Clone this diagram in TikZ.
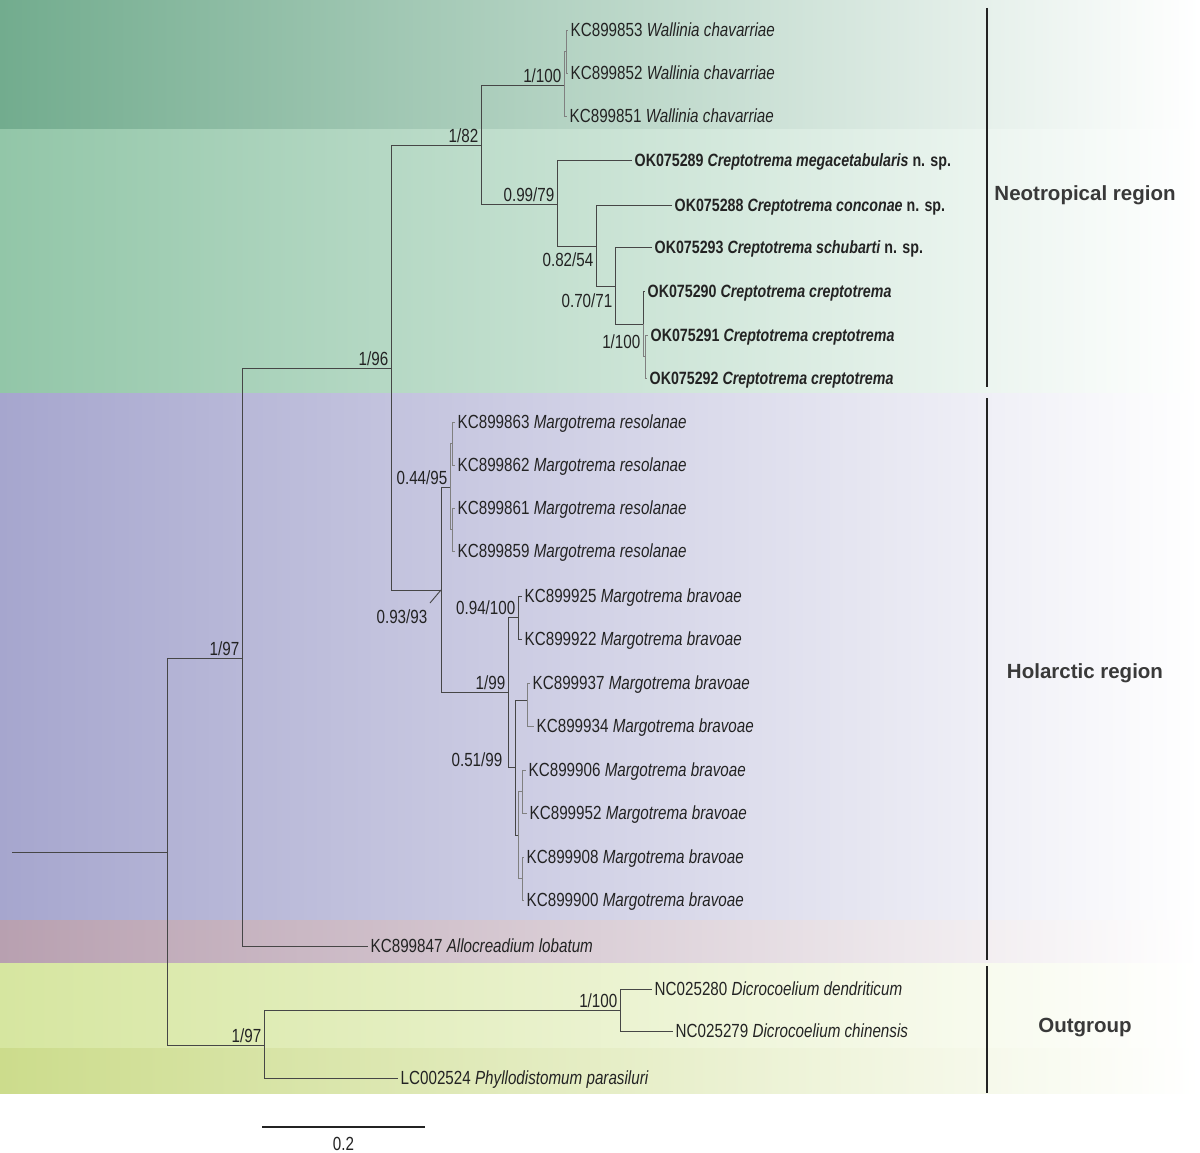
\documentclass[tikz,border=0pt]{standalone}
\usepackage{fontspec}
\setmainfont{Liberation Sans}
\newfontfamily\narrowsans[FakeStretch=0.8]{Liberation Sans}
\definecolor{neodark}{RGB}{114,172,142}
\definecolor{neolight}{RGB}{146,198,168}
\definecolor{holarc}{RGB}{166,166,206}
\definecolor{allocr}{RGB}{184,160,176}
\definecolor{outlight}{RGB}{214,230,160}
\definecolor{outdark}{RGB}{204,220,140}
\definecolor{branchc}{RGB}{70,70,70}
\definecolor{labelc}{RGB}{35,35,35}
\begin{document}
\begin{tikzpicture}[x=1pt,y=-1pt,
  branch/.style={draw=branchc, line width=0.9pt},
  twig/.style={draw=gray, line width=0.8pt},
  tip/.style={anchor=west, inner sep=2.5pt, font=\narrowsans\fontsize{19}{21}\selectfont, text=labelc, text height=13.5pt, text depth=0pt},
  boldtip/.style={tip, font=\narrowsans\bfseries\fontsize{17.8}{21}\selectfont},
  support/.style={anchor=south east, inner sep=2.5pt, font=\narrowsans\fontsize{19}{21}\selectfont, text=labelc, text height=13.5pt, text depth=0pt},
  region/.style={font=\bfseries\fontsize{20.5}{24}\selectfont, text=labelc!90!white},
  bracket/.style={draw=labelc, line width=2pt}]
\useasboundingbox (0,0) rectangle (1200,1153);
\shade[left color=neodark, right color=white] (0,0) rectangle (1200,130);
\shade[left color=neolight, right color=white] (0,130) rectangle (1200,393);
\shade[left color=holarc, right color=white] (0,393) rectangle (1200,920);
\shade[left color=allocr, right color=white] (0,920) rectangle (1200,963);
\shade[left color=outlight, right color=white] (0,963) rectangle (1200,1048);
\shade[left color=outdark, right color=white] (0,1048) rectangle (1200,1093);

\coordinate (root) at (12,852);
\coordinate (A) at (167,852);
\coordinate (B) at (242,658);
\coordinate (C) at (391,368);
\coordinate (D) at (481,145);
\coordinate (W) at (564,85);
\coordinate (W2) at (566,51);
\coordinate (E) at (557,204);
\coordinate (F) at (596,246);
\coordinate (G) at (615,286);
\coordinate (H) at (643,324);
\coordinate (H2) at (645,356);
\coordinate (I) at (441,590);
\coordinate (I93) at (430,603);
\coordinate (R) at (450,487);
\coordinate (R1) at (452,443);
\coordinate (R2) at (452,529);
\coordinate (J) at (508,692);
\coordinate (K) at (518,617);
\coordinate (L) at (515,767);
\coordinate (N) at (527,700);
\coordinate (M) at (518,835);
\coordinate (M1) at (522,791);
\coordinate (M2) at (522,878);
\coordinate (O) at (264,1045);
\coordinate (P) at (620,1010);

\node[tip] (w853) at (568,30) {KC899853 \textit{Wallinia chavarriae}};
\node[tip] (w852) at (568,73) {KC899852 \textit{Wallinia chavarriae}};
\node[tip] (w851) at (567,116) {KC899851 \textit{Wallinia chavarriae}};
\node[boldtip] (c289) at (632,160) {OK075289 \textit{Creptotrema megacetabularis} n. sp.};
\node[boldtip] (c288) at (672,205) {OK075288 \textit{Creptotrema conconae} n. sp.};
\node[boldtip] (c293) at (652,247) {OK075293 \textit{Creptotrema schubarti} n. sp.};
\node[boldtip] (c290) at (645,291) {OK075290 \textit{Creptotrema creptotrema}};
\node[boldtip] (c291) at (648,335) {OK075291 \textit{Creptotrema creptotrema}};
\node[boldtip] (c292) at (647,378) {OK075292 \textit{Creptotrema creptotrema}};
\node[tip] (r863) at (455,422) {KC899863 \textit{Margotrema resolanae}};
\node[tip] (r862) at (455,465) {KC899862 \textit{Margotrema resolanae}};
\node[tip] (r861) at (455,508) {KC899861 \textit{Margotrema resolanae}};
\node[tip] (r859) at (455,551) {KC899859 \textit{Margotrema resolanae}};
\node[tip] (b925) at (522,596) {KC899925 \textit{Margotrema bravoae}};
\node[tip] (b922) at (522,639) {KC899922 \textit{Margotrema bravoae}};
\node[tip] (b937) at (530,683) {KC899937 \textit{Margotrema bravoae}};
\node[tip] (b934) at (534,726) {KC899934 \textit{Margotrema bravoae}};
\node[tip] (b906) at (526,770) {KC899906 \textit{Margotrema bravoae}};
\node[tip] (b952) at (527,813) {KC899952 \textit{Margotrema bravoae}};
\node[tip] (b908) at (524,857) {KC899908 \textit{Margotrema bravoae}};
\node[tip] (b900) at (524,900) {KC899900 \textit{Margotrema bravoae}};
\node[tip] (allo) at (368,946) {KC899847 \textit{Allocreadium lobatum}};
\node[tip] (dend) at (652,989) {NC025280 \textit{Dicrocoelium dendriticum}};
\node[tip] (chin) at (673,1031) {NC025279 \textit{Dicrocoelium chinensis}};
\node[tip] (phyl) at (398,1078) {LC002524 \textit{Phyllodistomum parasiluri}};

\draw[branch] (root) -- (A);
\foreach \p/\c in {A/B, A/O, B/C, C/D, C/I, D/W, D/E, E/F, F/G, G/H, I/R, I/J, J/K, J/L, L/N, L/M, O/P}
  \draw[branch] (\p) |- (\c);
\foreach \p/\c in {E/c289, F/c288, G/c293, H/c290, B/allo, P/dend, P/chin, O/phyl, K/b925, K/b922}
  \draw[branch] (\p) |- (\c.west);
\foreach \p/\c in {W/W2, H/H2, R/R1, R/R2, M/M1, M/M2}
  \draw[twig] (\p) |- (\c);
\foreach \p/\c in {W2/w853, W2/w852, W/w851, H2/c291, H2/c292, R1/r863, R1/r862, R2/r861, R2/r859, N/b937, N/b934, M1/b906, M1/b952, M2/b908, M2/b900}
  \draw[twig] (\p) |- (\c.west);
\draw[branch] (I) -- (I93);

\node[support] (sB) at (B) {1/97};
\node[support] (sC) at (C) {1/96};
\node[support] (sD) at (D) {1/82};
\node[support] (sW) at (W) {1/100};
\node[support] (sE) at (E) {0.99/79};
\node[support, anchor=north east] (sF) at ([yshift=-4pt]F) {0.82/54};
\node[support, anchor=north east] (sG) at ([yshift=-5pt]G) {0.70/71};
\node[support, anchor=north east] (sH) at ([yshift=-8pt]H) {1/100};
\node[support] (sR) at (R) {0.44/95};
\node[support, anchor=north east] (sI) at ([yshift=-4pt]I93) {0.93/93};
\node[support] (sK) at (K) {0.94/100};
\node[support] (sJ) at (J) {1/99};
\node[support] (sL) at ([xshift=-10pt,yshift=-2pt]L) {0.51/99};
\node[support] (sP) at (P) {1/100};
\node[support] (sO) at (O) {1/97};

\coordinate (sb1) at (262,1127);
\coordinate (sb2) at (425,1127);
\draw[draw=labelc, line width=1.6pt] (sb1) -- (sb2);
\node[support, anchor=north] (sbl) at (343.5,1134) {0.2};

\draw[bracket] (987,8) -- (987,387);
\draw[bracket] (987,398) -- (987,960);
\draw[bracket] (987,966) -- (987,1093);
\node[region] (neo) at (1085,195) {Neotropical region};
\node[region] (hol) at (1085,673) {Holarctic region};
\node[region] (outg) at (1085,1028) {Outgroup};
\end{tikzpicture}
\end{document}
